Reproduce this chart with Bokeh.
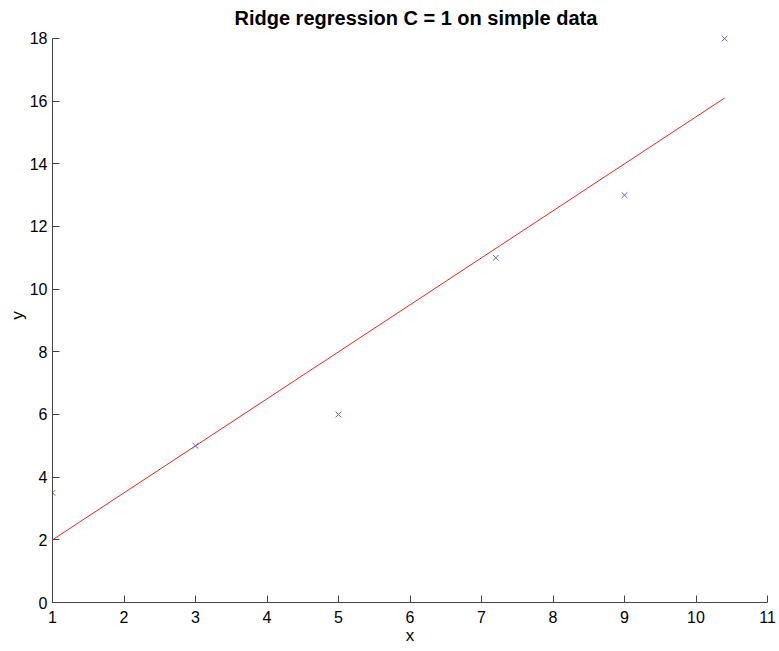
from bokeh.plotting import figure
from bokeh.models import Range1d, FixedTicker
from bokeh.embed import file_html
from bokeh.resources import INLINE

# data
pts_x = [1, 3, 5, 7.2, 9, 10.4]
pts_y = [3.5, 5, 6, 11, 13, 18]
fit_x = [1, 10.4]
fit_y = [2.0, 16.1]
x_ticks = list(range(1, 12))
y_ticks = list(range(0, 19, 2))

p = figure(width=779, height=651, output_backend="svg", toolbar_location=None,
           x_range=Range1d(1, 11), y_range=Range1d(0, 18.319),
           min_border_left=52, min_border_right=12, min_border_top=28, min_border_bottom=49)
p.title.text = "Ridge regression C = 1 on simple data"
p.title.align = "left"
p.title.text_font = "Liberation Sans"
p.title.text_font_size = "20px"
p.title.text_font_style = "bold"
p.title.text_color = "black"
p.title.standoff = 0
p.title.offset = 182

p.grid.visible = False
p.outline_line_color = None

for ax in (p.xaxis[0], p.yaxis[0]):
    ax.major_tick_in = 7
    ax.major_tick_out = 0
    ax.minor_tick_line_color = None
    ax.axis_line_color = "#444444"
    ax.major_tick_line_color = "#444444"
    ax.major_label_text_font = "Liberation Sans"
    ax.major_label_text_font_size = "16px"
    ax.major_label_text_color = "black"
    ax.axis_label_text_font = "Liberation Sans"
    ax.axis_label_text_font_size = "17px"
    ax.axis_label_text_font_style = "normal"
    ax.axis_label_text_color = "black"

p.xaxis.ticker = FixedTicker(ticks=x_ticks)
p.yaxis.ticker = FixedTicker(ticks=y_ticks)
p.yaxis.bounds = (0, 18)
p.xaxis.axis_label = "x"
p.yaxis.axis_label = "y"
p.xaxis.major_label_standoff = 8
p.yaxis.major_label_standoff = 5
p.xaxis.axis_label_standoff = 0
p.yaxis.axis_label_standoff = 0

p.line(fit_x, fit_y, line_color="#ff2020", line_width=1)
p.scatter(pts_x, pts_y, marker="x", size=8, line_color="#6060ff", line_width=1)

open("out.html", "w").write(file_html(p, INLINE))
